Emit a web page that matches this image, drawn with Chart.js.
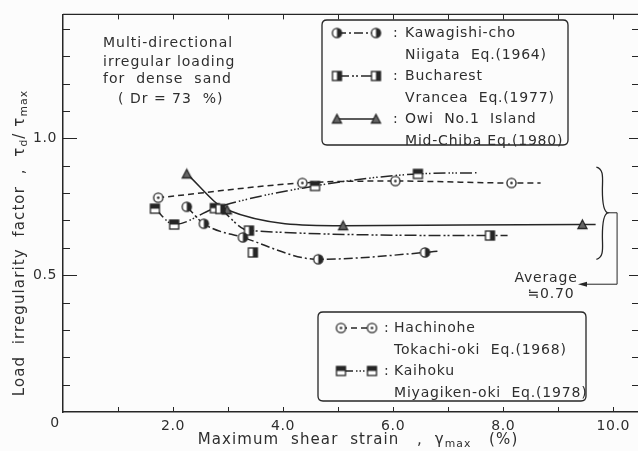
<!DOCTYPE html>
<html><head><meta charset="utf-8">
<script src="https://cdn.jsdelivr.net/npm/chart.js@4/dist/chart.umd.min.js"></script>
<style>html,body{margin:0;padding:0;background:#fcfcfc;}</style>
</head><body>
<canvas id="c" width="638" height="451"></canvas>
<script>
// ---- data ----
const xTickValues = [2, 4, 6, 8, 10];
const yTickValues = [0.5, 1.0];

const kawagishiX = [2.25, 2.56, 3.27, 4.64, 6.58];
const kawagishiY = [0.750, 0.688, 0.638, 0.558, 0.583];
const kawagishiCurveEnd = [6.82, 0.588];

const bucharestX = [2.86, 3.38, 7.76];
const bucharestY = [0.742, 0.663, 0.645];
const bucharestCurveEnd = [8.08, 0.645];
const bucharestOffX = [3.45];
const bucharestOffY = [0.583];

const owiX = [2.25, 2.98, 5.09, 9.44];
const owiY = [0.870, 0.739, 0.681, 0.685];
const owiCurveEnd = [9.68, 0.685];

const hachinoheX = [1.73, 4.35, 6.04, 8.15];
const hachinoheY = [0.783, 0.837, 0.844, 0.837];
const hachinoheCurveEnd = [8.68, 0.837];

const kaihokuX = [1.67, 2.02, 2.76, 4.58, 6.45];
const kaihokuY = [0.743, 0.685, 0.745, 0.826, 0.870];
const kaihokuCurveEnd = [7.52, 0.874];

const averageValue = 0.70;

const INK = '#262626';
const TXT = '#2e2e2e';
const FONT = '"DejaVu Sans", sans-serif';

// ---- marker images ----
function mk(draw) {
  const c = document.createElement('canvas');
  c.width = 13; c.height = 13;
  const g = c.getContext('2d');
  g.strokeStyle = INK; g.fillStyle = INK; g.lineWidth = 1.3;
  draw(g);
  return c;
}
const halfCircle = mk(g => {
  g.fillStyle = '#fff'; g.beginPath(); g.arc(6.5, 6.5, 4.6, 0, Math.PI * 2); g.fill();
  g.fillStyle = INK; g.beginPath(); g.arc(6.5, 6.5, 4.6, -Math.PI / 2, Math.PI / 2); g.closePath(); g.fill();
  g.beginPath(); g.arc(6.5, 6.5, 4.6, 0, Math.PI * 2); g.stroke();
});
const dotCircle = mk(g => {
  g.fillStyle = '#fff'; g.beginPath(); g.arc(6.5, 6.5, 4.6, 0, Math.PI * 2); g.fill(); g.stroke();
  g.fillStyle = INK; g.beginPath(); g.arc(6.5, 6.5, 1.3, 0, Math.PI * 2); g.fill();
});
const sqRight = mk(g => {
  g.fillStyle = '#fff'; g.fillRect(2, 2, 9, 9);
  g.fillStyle = INK; g.fillRect(6.5, 2, 4.5, 9);
  g.strokeRect(2, 2, 9, 9);
});
const sqTop = mk(g => {
  g.fillStyle = '#fff'; g.fillRect(2, 2, 9, 9);
  g.fillStyle = INK; g.fillRect(2, 2, 9, 4.5);
  g.strokeRect(2, 2, 9, 9);
});
const tri = mk(g => {
  g.fillStyle = '#666';
  g.beginPath(); g.moveTo(6.5, 2); g.lineTo(11, 10.5); g.lineTo(2, 10.5); g.closePath(); g.fill(); g.stroke();
});

const DASH = {
  kawagishi: [9, 3, 2, 3],
  bucharest: [12, 3, 2, 2, 2, 3],
  owi: [],
  hachinohe: [6, 4],
  kaihoku: [12, 3, 1.5, 2, 1.5, 2, 1.5, 3]
};

function pts(xs, ys, end) {
  const p = xs.map((x, i) => ({ x: x, y: ys[i] }));
  if (end) p.push({ x: end[0], y: end[1] });
  return p;
}
function series(label, xs, ys, end, img, dash, legendBox) {
  const n = xs.length;
  return {
    label: label, data: pts(xs, ys, end), showLine: true,
    borderColor: INK, borderWidth: 1.5, borderDash: dash,
    cubicInterpolationMode: 'monotone',
    pointStyle: img,
    pointRadius: ctx => (ctx.dataIndex >= n ? 0 : 5),
    pointHoverRadius: 0,
    _img: img, _legendBox: legendBox
  };
}

const datasets = [
  series('Kawagishi-cho|Niigata  Eq.(1964)', kawagishiX, kawagishiY, kawagishiCurveEnd, halfCircle, DASH.kawagishi, 1),
  series('Bucharest|Vrancea  Eq.(1977)', bucharestX, bucharestY, bucharestCurveEnd, sqRight, DASH.bucharest, 1),
  series('Owi  No.1  Island|Mid-Chiba Eq.(1980)', owiX, owiY, owiCurveEnd, tri, DASH.owi, 1),
  series('Hachinohe|Tokachi-oki  Eq.(1968)', hachinoheX, hachinoheY, hachinoheCurveEnd, dotCircle, DASH.hachinohe, 2),
  series('Kaihoku|Miyagiken-oki  Eq.(1978)', kaihokuX, kaihokuY, kaihokuCurveEnd, sqTop, DASH.kaihoku, 2),
  { label: 'Bucharest (extra)', data: pts(bucharestOffX, bucharestOffY), showLine: false,
    pointStyle: sqRight, pointRadius: 5, pointHoverRadius: 0, _legendBox: 0 }
];

// rich text with subscripts
function richWidth(ctx, parts, size) {
  let w = 0;
  parts.forEach(p => { ctx.font = (p.sub ? size * 0.72 : size) + 'px ' + FONT; w += ctx.measureText(p.t).width; });
  return w;
}
function drawRich(ctx, parts, x, y, size) {
  let cx = x;
  parts.forEach(p => {
    ctx.font = (p.sub ? size * 0.72 : size) + 'px ' + FONT;
    ctx.fillText(p.t, cx, p.sub ? y + size * 0.28 : y);
    cx += ctx.measureText(p.t).width;
  });
}

const decor = {
  id: 'decor',
  beforeDraw(chart) {
    chart.ctx.letterSpacing = '0.6px';
  },
  afterDraw(chart) {
    const ctx = chart.ctx, a = chart.chartArea;
    const xs = chart.scales.x, ys = chart.scales.y;
    ctx.save();
    ctx.strokeStyle = INK; ctx.fillStyle = TXT; ctx.lineWidth = 1.4;
    // top frame line
    ctx.beginPath(); ctx.moveTo(a.left, a.top); ctx.lineTo(a.right, a.top); ctx.stroke();
    // inner ticks
    ctx.lineWidth = 1;
    for (let v = 0.1; v < ys.max; v += 0.1) {
      const y = Math.round(ys.getPixelForValue(v)) + 0.5;
      const major = Math.abs(v * 2 - Math.round(v * 2)) < 1e-6;
      ctx.beginPath(); ctx.moveTo(a.left, y); ctx.lineTo(a.left + (major ? 14 : 7), y); ctx.stroke();
      ctx.beginPath(); ctx.moveTo(a.right, y); ctx.lineTo(a.right - (major ? 9 : 6), y); ctx.stroke();
    }
    for (let v = 1; v < xs.max; v += 1) {
      const x = Math.round(xs.getPixelForValue(v)) + 0.5;
      ctx.beginPath(); ctx.moveTo(x, a.bottom); ctx.lineTo(x, a.bottom - 5); ctx.stroke();
      ctx.beginPath(); ctx.moveTo(x, a.top); ctx.lineTo(x, a.top + 5); ctx.stroke();
    }
    // origin label
    ctx.font = '14px ' + FONT; ctx.textAlign = 'center'; ctx.textBaseline = 'middle';
    ctx.fillText('0', xs.getPixelForValue(0) - 8, a.bottom + 11);

    // axis titles
    ctx.letterSpacing = '1.1px';
    ctx.textAlign = 'left'; ctx.textBaseline = 'middle';
    const xt = [{ t: 'Maximum  shear  strain   ,  γ' }, { t: 'max', sub: true }, { t: '   (%)' }];
    const xw = richWidth(ctx, xt, 15);
    drawRich(ctx, xt, 358 - xw / 2, 440, 15);
    ctx.save();
    ctx.translate(20, 243); ctx.rotate(-Math.PI / 2);
    const yt = [{ t: 'Load  irregularity  factor  ,  τ' }, { t: 'd', sub: true }, { t: '/ τ' }, { t: 'max', sub: true }];
    const yw = richWidth(ctx, yt, 15);
    drawRich(ctx, yt, -yw / 2, 0, 15);
    ctx.restore();

    // top-left note
    ctx.letterSpacing = '1px';
    ctx.font = '14px ' + FONT; ctx.textAlign = 'left';
    ctx.fillText('Multi-directional', 103, 43);
    ctx.fillText('irregular loading', 103, 62);
    ctx.fillText('for  dense  sand', 103, 79);
    ctx.fillText('( Dr = 73  %)', 118, 99);

    // legend boxes
    ctx.letterSpacing = '0.8px';
    function roundRect(x1, y1, x2, y2, r) {
      ctx.beginPath();
      ctx.moveTo(x1 + r, y1); ctx.lineTo(x2 - r, y1); ctx.quadraticCurveTo(x2, y1, x2, y1 + r);
      ctx.lineTo(x2, y2 - r); ctx.quadraticCurveTo(x2, y2, x2 - r, y2);
      ctx.lineTo(x1 + r, y2); ctx.quadraticCurveTo(x1, y2, x1, y2 - r);
      ctx.lineTo(x1, y1 + r); ctx.quadraticCurveTo(x1, y1, x1 + r, y1); ctx.closePath();
      ctx.fillStyle = '#fcfcfc'; ctx.fill(); ctx.lineWidth = 1.3; ctx.stroke();
    }
    function legendBox(which, box, sx1, sx2, colonX, textX, y0) {
      roundRect(box[0], box[1], box[2], box[3], 5);
      let y = y0;
      chart.data.datasets.filter(d => d._legendBox === which).forEach(d => {
        ctx.lineWidth = 1.4; ctx.setLineDash(d.borderDash);
        ctx.beginPath(); ctx.moveTo(sx1, y); ctx.lineTo(sx2, y); ctx.stroke();
        ctx.setLineDash([]);
        ctx.drawImage(d._img, sx1 - 6.5, y - 6.5);
        ctx.drawImage(d._img, sx2 - 6.5, y - 6.5);
        ctx.fillStyle = TXT; ctx.font = '14px ' + FONT; ctx.textAlign = 'left';
        ctx.fillText(':', colonX, y);
        const lines = d.label.split('|');
        ctx.fillText(lines[0], textX, y);
        ctx.fillText(lines[1], textX, y + 22);
        y += 43;
      });
    }
    legendBox(1, [322, 20, 568, 145], 337, 376, 393, 405, 33);
    legendBox(2, [318, 312, 586, 401], 341, 372, 384, 394, 328);

    // brace + average arrow
    const bx = xs.getPixelForValue(9.73), tipX = xs.getPixelForValue(9.9);
    const lineX = xs.getPixelForValue(10.07);
    const yTop = ys.getPixelForValue(0.895), yBot = ys.getPixelForValue(0.558);
    const yMid = ys.getPixelForValue(0.728);
    ctx.lineWidth = 1.3; ctx.strokeStyle = INK;
    ctx.beginPath();
    ctx.moveTo(bx - 2, yTop);
    ctx.bezierCurveTo(bx + 6, yTop + 2, bx + 4, yTop + 12, bx + 4, (yTop + yMid) / 2);
    ctx.bezierCurveTo(bx + 4, yMid - 10, bx + 6, yMid - 1, tipX, yMid);
    ctx.bezierCurveTo(bx + 6, yMid + 1, bx + 4, yMid + 10, bx + 4, (yMid + yBot) / 2);
    ctx.bezierCurveTo(bx + 4, yBot - 12, bx + 6, yBot - 2, bx - 2, yBot);
    ctx.stroke();
    const arrowY = ys.getPixelForValue(0.467);
    const arrowTip = xs.getPixelForValue(9.36);
    ctx.lineWidth = 1;
    ctx.beginPath(); ctx.moveTo(tipX, yMid); ctx.lineTo(lineX, yMid); ctx.lineTo(lineX, arrowY); ctx.lineTo(arrowTip + 6, arrowY); ctx.stroke();
    ctx.fillStyle = INK;
    ctx.beginPath(); ctx.moveTo(arrowTip, arrowY); ctx.lineTo(arrowTip + 9, arrowY - 2.5); ctx.lineTo(arrowTip + 9, arrowY + 2.5); ctx.closePath(); ctx.fill();
    ctx.fillStyle = TXT; ctx.font = '14px ' + FONT; ctx.textAlign = 'center';
    ctx.fillText('Average', arrowTip - 32, arrowY - 6);
    ctx.fillText('≒' + averageValue.toFixed(2), arrowTip - 27, arrowY + 10);
    ctx.restore();
  }
};

new Chart(document.getElementById('c'), {
  type: 'scatter',
  data: { datasets: datasets },
  options: {
    responsive: false, animation: false,
    layout: { autoPadding: false, padding: { top: 11, right: 0, left: 0, bottom: 0 } },
    plugins: { legend: { display: false }, tooltip: { enabled: false } },
    scales: {
      x: {
        type: 'linear', min: 0, max: 10.45,
        afterBuildTicks: s => { s.ticks = xTickValues.map(v => ({ value: v })); },
        afterFit: s => { s.height = 39; },
        grid: { display: false, drawTicks: false },
        border: { display: true, color: INK, width: 1.5 },
        ticks: { padding: 6, color: TXT, font: { family: FONT, size: 14 }, maxRotation: 0,
                 callback: v => v.toFixed(1) }
      },
      y: {
        type: 'linear', min: 0, max: 1.453,
        afterBuildTicks: s => { s.ticks = yTickValues.map(v => ({ value: v })); },
        afterFit: s => { s.width = 63; },
        grid: { display: false, drawTicks: false },
        border: { display: true, color: INK, width: 1.5 },
        ticks: { padding: 6, color: TXT, font: { family: FONT, size: 14 },
                 callback: v => v.toFixed(1) }
      }
    }
  },
  plugins: [decor]
});
</script>
</body></html>
